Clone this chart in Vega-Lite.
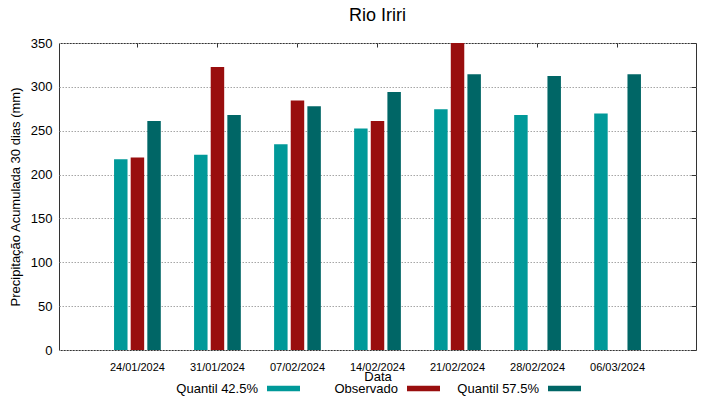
{
  "$schema": "https://vega.github.io/schema/vega-lite/v6.json",
  "width": 637,
  "height": 307,
  "autosize": {"type": "none"},
  "padding": {"left": 59, "top": 43, "right": 23, "bottom": 49},
  "background": "white",
  "title": {"text": "Rio Iriri", "fontSize": 18, "fontWeight": "normal", "font": "Liberation Sans", "color": "black", "offset": 12, "frame": "group", "anchor": "middle"},
  "config": {
    "font": "Liberation Sans",
    "view": {"stroke": "#333333", "strokeWidth": 1},
    "axis": {"domain": false, "labelColor": "black", "titleColor": "black", "titleFontWeight": "normal", "tickColor": "#333333"},
    "legend": {
      "title": null, "orient": "none", "padding": 0, "labelFontSize": 13, "labelColor": "black",
      "labelAlign": "right", "labelOffset": -42, "labelLimit": 300,
      "symbolType": "M-1,-0.167H1V0.167H-1Z", "symbolSize": 1089, "symbolStrokeWidth": 0, "symbolOpacity": 1
    }
  },
  "data": {
    "values": [
      {"data": "24/01/2024", "serie": "Quantil 42.5%", "valor": 217.5},
      {"data": "24/01/2024", "serie": "Observado", "valor": 219.5},
      {"data": "24/01/2024", "serie": "Quantil 57.5%", "valor": 261},
      {"data": "31/01/2024", "serie": "Quantil 42.5%", "valor": 222.5},
      {"data": "31/01/2024", "serie": "Observado", "valor": 322.5},
      {"data": "31/01/2024", "serie": "Quantil 57.5%", "valor": 268},
      {"data": "07/02/2024", "serie": "Quantil 42.5%", "valor": 234.5},
      {"data": "07/02/2024", "serie": "Observado", "valor": 284.5},
      {"data": "07/02/2024", "serie": "Quantil 57.5%", "valor": 278},
      {"data": "14/02/2024", "serie": "Quantil 42.5%", "valor": 252.5},
      {"data": "14/02/2024", "serie": "Observado", "valor": 261},
      {"data": "14/02/2024", "serie": "Quantil 57.5%", "valor": 294},
      {"data": "21/02/2024", "serie": "Quantil 42.5%", "valor": 274.5},
      {"data": "21/02/2024", "serie": "Observado", "valor": 350},
      {"data": "21/02/2024", "serie": "Quantil 57.5%", "valor": 314.5},
      {"data": "28/02/2024", "serie": "Quantil 42.5%", "valor": 268},
      {"data": "28/02/2024", "serie": "Quantil 57.5%", "valor": 312.5},
      {"data": "06/03/2024", "serie": "Quantil 42.5%", "valor": 269.5},
      {"data": "06/03/2024", "serie": "Quantil 57.5%", "valor": 314.5}
    ]
  },
  "layer": [
    {
      "transform": [{"filter": "datum.serie == 'Quantil 42.5%'"}],
      "mark": {"type": "bar", "clip": true},
      "encoding": {
        "x": {
          "field": "data", "type": "nominal", "sort": null,
          "scale": {"domain": ["24/01/2024", "31/01/2024", "07/02/2024", "14/02/2024", "21/02/2024", "28/02/2024", "06/03/2024"], "paddingInner": 0, "paddingOuter": 0.48},
          "axis": {"title": "Data", "orient": "bottom", "labelAngle": 0, "ticks": false, "labelPadding": 11, "labelFontSize": 11, "titleFontSize": 13, "titlePadding": -2, "grid": false}
        },
        "xOffset": {
          "field": "serie", "type": "nominal",
          "scale": {"domain": ["Quantil 42.5%", "Observado", "Quantil 57.5%"], "paddingInner": 0.19, "paddingOuter": 1.095}
        },
        "y": {
          "field": "valor", "type": "quantitative", "stack": null,
          "scale": {"domain": [0, 350], "nice": false, "zero": true},
          "axis": {"title": "Precipitação Acumulada 30 dias (mm)", "orient": "left", "values": [0, 50, 100, 150, 200, 250, 300, 350], "ticks": false, "labelPadding": 7, "labelFontSize": 13, "titleFontSize": 13, "titlePadding": 8, "grid": true, "gridColor": "#a6a6a6", "gridDash": [1.5, 1.5], "gridWidth": 1}
        },
        "fill": {
          "field": "serie", "type": "nominal",
          "scale": {"domain": ["Quantil 42.5%"], "range": ["#009999"]},
          "legend": {"legendX": 208, "legendY": 329}
        }
      }
    },
    {
      "transform": [{"filter": "datum.serie == 'Observado'"}],
      "mark": {"type": "bar", "clip": true},
      "encoding": {
        "x": {"field": "data", "type": "nominal", "sort": null, "axis": null},
        "xOffset": {"field": "serie", "type": "nominal"},
        "y": {"field": "valor", "type": "quantitative", "stack": null, "axis": null},
        "fill": {
          "field": "serie", "type": "nominal",
          "scale": {"domain": ["Observado"], "range": ["#990e0e"]},
          "legend": {"legendX": 348, "legendY": 329}
        }
      }
    },
    {
      "transform": [{"filter": "datum.serie == 'Quantil 57.5%'"}],
      "mark": {"type": "bar", "clip": true},
      "encoding": {
        "x": {"field": "data", "type": "nominal", "sort": null, "axis": null},
        "xOffset": {"field": "serie", "type": "nominal"},
        "y": {"field": "valor", "type": "quantitative", "stack": null, "axis": null},
        "fill": {
          "field": "serie", "type": "nominal",
          "scale": {"domain": ["Quantil 57.5%"], "range": ["#006666"]},
          "legend": {"legendX": 489, "legendY": 329}
        }
      }
    },
    {
      "mark": {"type": "bar", "opacity": 0, "clip": true},
      "encoding": {
        "x": {
          "field": "data", "type": "nominal", "sort": null,
          "axis": {"title": null, "orient": "top", "labels": false, "ticks": true, "tickSize": -4, "grid": false}
        },
        "y": {
          "field": "valor", "type": "quantitative", "stack": null,
          "axis": {"title": null, "orient": "right", "labels": false, "ticks": true, "tickSize": -5, "values": [0, 50, 100, 150, 200, 250, 300, 350], "grid": false}
        }
      }
    }
  ],
  "resolve": {
    "axis": {"x": "independent", "y": "independent"},
    "scale": {"fill": "independent"},
    "legend": {"fill": "independent"}
  }
}
